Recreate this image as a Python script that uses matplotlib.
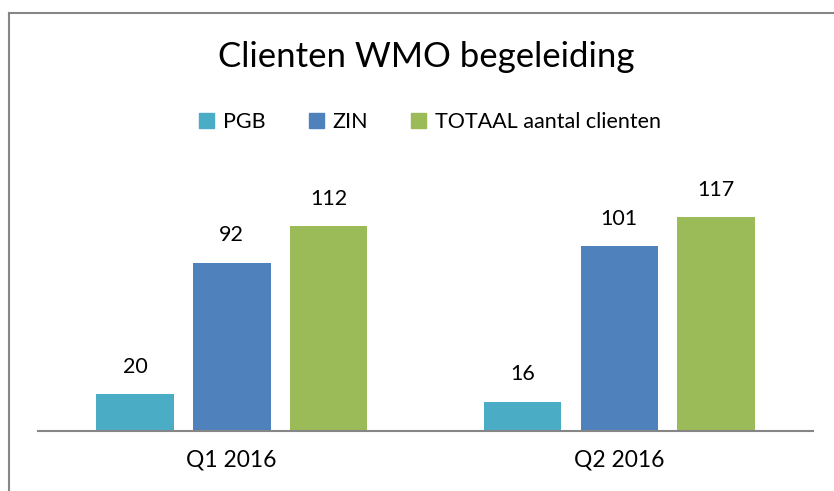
import matplotlib.pyplot as plt
import numpy as np
from matplotlib.lines import Line2D
from matplotlib.patches import Patch

plt.rcParams['font.family'] = ['Lato', 'DejaVu Sans']

quarters = ["Q1 2016", "Q2 2016"]
series = ["PGB", "ZIN", "TOTAAL aantal clienten"]
pgb = [20, 16]
zin = [92, 101]
totaal = [112, 117]
colors = ["#4BACC6", "#4F81BD", "#9BBB59"]

fig = plt.figure(figsize=(8.34, 4.91), dpi=100)
ax = fig.add_axes([38/834, 1 - 431/491, 775/834, 256/491])

x = np.arange(len(quarters))
width = 0.2
for i, (vals, c) in enumerate(zip([pgb, zin, totaal], colors)):
    bars = ax.bar(x + (i - 1) * 0.25, vals, width, color=c)
    for b, v in zip(bars, vals):
        ax.text(b.get_x() + b.get_width() / 2, v + 15, str(v),
                ha="center", va="center", fontsize=15.5)

ax.set_xlim(-0.5, 1.5)
ax.set_ylim(0, 140)
ax.set_xticks(x)
ax.set_xticklabels(quarters, fontsize=16.5)
ax.tick_params(axis="x", length=0, pad=13)
ax.set_yticks([])
for s in ["top", "right", "left"]:
    ax.spines[s].set_visible(False)
ax.spines["bottom"].set_color("#868686")
ax.spines["bottom"].set_linewidth(1.5)

fig.text(426/834, 1 - 57/491, "Clienten WMO begeleiding", ha="center", va="center", fontsize=25)

handles = [Patch(color=c) for c in colors]
fig.legend(handles, series, loc="center", bbox_to_anchor=(430/834, 1 - 122/491),
           ncol=3, frameon=False, fontsize=15.5, handlelength=0.7, handleheight=0.7,
           handletextpad=0.4, columnspacing=2.0)

# grey chart border (left and top)
fig.add_artist(Line2D([9/834, 9/834], [0, 1 - 13/491], color="#868686", lw=1.5))
fig.add_artist(Line2D([9/834, 1], [1 - 13/491, 1 - 13/491], color="#868686", lw=1.5))

fig.savefig("out.png", dpi=100)
